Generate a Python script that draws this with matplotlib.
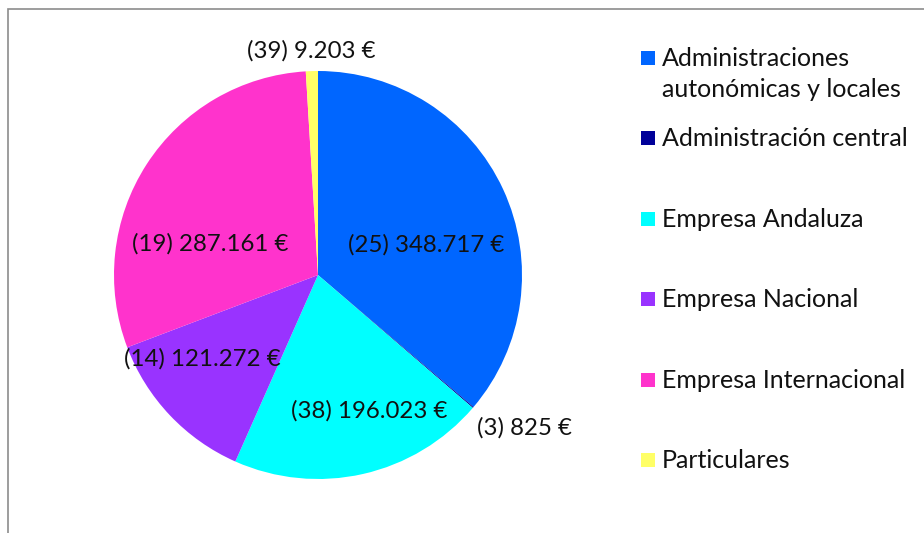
import numpy as np
import matplotlib.pyplot as plt
from matplotlib.patches import Rectangle

plt.rcParams["font.family"] = ["Lato", "DejaVu Sans"]

categories = [
    "Administraciones\nautonómicas y locales",
    "Administración central",
    "Empresa Andaluza",
    "Empresa Nacional",
    "Empresa Internacional",
    "Particulares",
]
amounts = [348717, 825, 196023, 121272, 287161, 9203]
counts = [25, 3, 38, 14, 19, 39]
colors = ["#0066ff", "#000099", "#00ffff", "#9933ff", "#ff33cc", "#ffff66"]

# label placement: radial distance (fraction of radius) and angle tweak (deg)
label_r = [0.55, 1.26, 0.71, 0.70, 0.55, 1.10]
label_dang = [-9, 4, 8, -7.5, 17, 0]


def euro(v):
    return f"{v:,}".replace(",", ".") + " €"


W, H = 924, 533
fig = plt.figure(figsize=(W / 100, H / 100), dpi=100)

cx, cy, r = 318, 275, 204
ax = fig.add_axes([(cx - r) / W, (H - cy - r) / H, 2 * r / W, 2 * r / H])
wedges, _ = ax.pie(amounts, colors=colors, startangle=90, counterclock=False,
                   radius=1, wedgeprops=dict(linewidth=0))
ax.set_xlim(-1, 1)
ax.set_ylim(-1, 1)
ax.set_aspect("auto")
ax.axis("off")

for w, n, v, lr, da in zip(wedges, counts, amounts, label_r, label_dang):
    mid = np.deg2rad((w.theta1 + w.theta2) / 2 + da)
    ax.text(lr * np.cos(mid), lr * np.sin(mid), f"({n}) {euro(v)}",
            ha="center", va="center", fontsize=17.3, color="#111111")

# legend
lx, ly0, step, line_h = 648, 58, 80.4, 31
for i, (lab, c) in enumerate(zip(categories, colors)):
    y = ly0 + i * step
    fig.patches.append(Rectangle(((lx - 7) / W, (H - y - 7) / H), 14 / W, 14 / H,
                                 transform=fig.transFigure, facecolor=c,
                                 edgecolor="none"))
    for j, line in enumerate(lab.split("\n")):
        fig.text((lx + 14) / W, (H - y - 8 - j * line_h) / H, line,
                 ha="left", va="baseline", fontsize=18, color="#111111")

# chart frame (top and left edges visible)
fig.patches.append(Rectangle((8 / W, -0.1), 1.0, (H - 9) / H + 0.1,
                             transform=fig.transFigure, facecolor="none",
                             edgecolor="#8c8c8c", linewidth=1.2))

fig.savefig("out.png", dpi=100)
